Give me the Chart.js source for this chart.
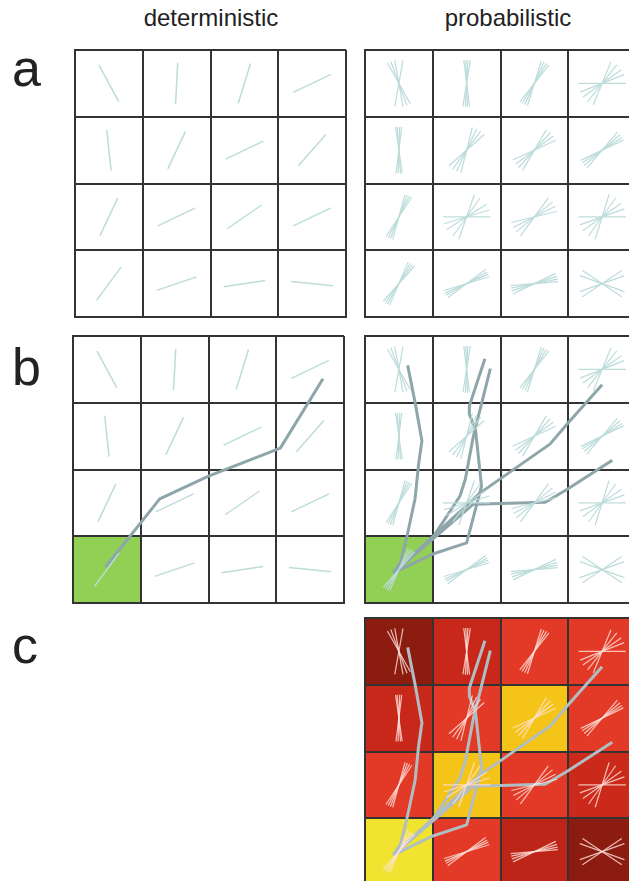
<!DOCTYPE html>
<html>
<head>
<meta charset="utf-8">
<script src="https://cdn.jsdelivr.net/npm/chart.js@4.4.0/dist/chart.umd.min.js"></script>
<style>
  html, body { margin: 0; padding: 0; background: #fff; width: 629px; height: 881px; overflow: hidden; }
  .lbl { position: absolute; font-family: "Liberation Sans", Arial, sans-serif; color: #222; white-space: nowrap; }
  .head { font-size: 24px; line-height: 30px; text-align: center; width: 220px; }
  .letter { font-size: 52px; line-height: 52px; }
  .panel { position: absolute; }
</style>
</head>
<body>

<div class="lbl head" style="left:101px; top:3px;">deterministic</div>
<div class="lbl head" style="left:398px; top:3px;">probabilistic</div>
<div class="lbl letter" style="left:12px; top:42px;">a</div>
<div class="lbl letter" style="left:12px; top:341px;">b</div>
<div class="lbl letter" style="left:12px; top:619px;">c</div>

<div class="panel" style="left:73px; top:48px;"><canvas id="aDet" width="275" height="271"></canvas></div>
<div class="panel" style="left:363px; top:48px;"><canvas id="aProb" width="275" height="271"></canvas></div>
<div class="panel" style="left:71px; top:334px;"><canvas id="bDet" width="275" height="271"></canvas></div>
<div class="panel" style="left:363px; top:334px;"><canvas id="bProb" width="275" height="271"></canvas></div>
<div class="panel" style="left:363px; top:616px;"><canvas id="cProb" width="275" height="271"></canvas></div>

<script>
// ---- data (grid is 4x4 voxels, rows listed top to bottom) ----
const gridSize = 4;

// principal fibre direction per voxel, degrees from horizontal
const detAngles = [
  [118, 87, 73, 26],
  [96, 65, 26, 49],
  [65, 26, 35, 26],
  [54, 19, 9, 174]
];

// sampled fibre directions per voxel (uncertainty fans)
const probAngles = [
  [[119, 110, 100, 80], [97, 92, 87, 81], [73, 66, 59, 52], [0, 22, 36, 52, 68]],
  [[98, 94, 88, 83], [76, 65, 54, 42], [60, 48, 37, 25], [50, 41, 33, 26]],
  [[75, 69, 63, 57], [0, 17, 33, 55, 71], [54, 40, 27, 14], [0, 20, 36, 55, 73]],
  [[67, 61, 55, 49], [37, 30, 24, 17], [26, 18, 11, 5], [146, 160, 20, 34]]
];

// seed voxel (col, row from bottom)
const seedCell = { col: 0, row: 0 };

// streamline through the deterministic field (voxel units, origin bottom-left)
const detTractX = [0.48, 1.28, 2.00, 3.06, 3.69];
const detTractY = [0.54, 1.56, 1.90, 2.32, 3.36];

// streamlines sampled from the probabilistic field
const probTractsX = [
  [0.42, 0.52, 0.62, 0.74, 0.79, 0.84, 0.74, 0.63],
  [0.42, 1.00, 1.40, 1.48, 1.60, 1.85],
  [0.42, 0.99, 1.50, 1.72, 1.63, 1.54, 1.54, 1.77],
  [0.42, 1.70, 2.73, 3.00, 3.50],
  [0.42, 1.60, 2.66, 2.98, 3.65]
];
const probTractsY = [
  [0.45, 0.60, 1.00, 1.57, 2.07, 2.43, 3.00, 3.56],
  [0.45, 0.98, 1.60, 1.85, 2.50, 3.51],
  [0.45, 0.73, 0.90, 1.75, 2.60, 2.83, 2.95, 3.66],
  [0.45, 1.65, 2.38, 2.70, 3.27],
  [0.45, 1.48, 1.51, 1.70, 2.14]
];

// connectivity (fraction of streamlines visiting each voxel), rows top to bottom
const connectivity = [
  [0.05, 0.30, 0.50, 0.50],
  [0.30, 0.50, 0.85, 0.50],
  [0.50, 0.85, 0.50, 0.32],
  [1.00, 0.50, 0.25, 0.05]
];

// ---- styling ----
const gridColor = '#333333';
const fibreColor = '#bcdcda';
const fibreOnHeat = 'rgba(255, 228, 222, 0.8)';
const tractColor = '#8ea6a9';
const tractOnHeat = '#b0bec4';
const seedColor = '#92cf55';
const heatStops = [
  [0.00, [128, 24, 14]],
  [0.30, [200, 40, 26]],
  [0.50, [226, 58, 38]],
  [0.85, [245, 196, 24]],
  [1.00, [240, 228, 48]]
];

function heatColor(v) {
  for (let i = 1; i < heatStops.length; i++) {
    const [v1, c1] = heatStops[i];
    const [v0, c0] = heatStops[i - 1];
    if (v <= v1) {
      const t = (v - v0) / (v1 - v0);
      const c = c0.map((a, k) => Math.round(a + (c1[k] - a) * t));
      return `rgb(${c[0]},${c[1]},${c[2]})`;
    }
  }
  const c = heatStops[heatStops.length - 1][1];
  return `rgb(${c[0]},${c[1]},${c[2]})`;
}

// fill voxels under the grid, using the chart's own scales
const cellFill = {
  id: 'cellFill',
  beforeDraw(chart, args, opts) {
    const { ctx, scales: { x, y } } = chart;
    ctx.save();
    (opts.cells || []).forEach(c => {
      const x0 = x.getPixelForValue(c.col), x1 = x.getPixelForValue(c.col + 1);
      const y0 = y.getPixelForValue(c.row + 1), y1 = y.getPixelForValue(c.row);
      ctx.fillStyle = c.color;
      ctx.fillRect(x0, y0, x1 - x0, y1 - y0);
    });
    ctx.restore();
  }
};

function segment(col, row, deg, len, color, width) {
  const cx = col + 0.5, cy = row + 0.5;
  const r = deg * Math.PI / 180, h = len / 2;
  return {
    data: [
      { x: cx - Math.cos(r) * h, y: cy - Math.sin(r) * h },
      { x: cx + Math.cos(r) * h, y: cy + Math.sin(r) * h }
    ],
    showLine: true, borderColor: color, borderWidth: width,
    pointRadius: 0, tension: 0
  };
}

function fibreSets(angles, fan, color, width) {
  const sets = [];
  angles.forEach((rowVals, ri) => {
    const row = gridSize - 1 - ri;
    rowVals.forEach((a, col) => {
      const list = fan ? a : [a];
      list.forEach(deg => sets.push(segment(col, row, deg, fan ? 0.7 : 0.62, color, width)));
    });
  });
  return sets;
}

function tractSet(xs, ys, color) {
  return {
    data: xs.map((x, i) => ({ x, y: ys[i] })),
    showLine: true, borderColor: color, borderWidth: 3,
    pointRadius: 0, tension: 0, borderJoinStyle: 'round'
  };
}

function makePanel(id, datasets, cells) {
  const axis = {
    type: 'linear', min: 0, max: gridSize,
    ticks: { display: false, stepSize: 1 },
    grid: { color: gridColor, lineWidth: 2, drawTicks: false },
    border: { display: true, color: gridColor, width: 2 }
  };
  new Chart(document.getElementById(id), {
    type: 'scatter',
    data: { datasets },
    options: {
      responsive: false,
      animation: false,
      layout: { padding: 2 },
      scales: { x: axis, y: { ...axis } },
      plugins: {
        legend: { display: false },
        tooltip: { enabled: false },
        cellFill: { cells: cells || [] }
      }
    },
    plugins: [cellFill]
  });
}

const seedFill = [{ col: seedCell.col, row: seedCell.row, color: seedColor }];
const heatCells = [];
connectivity.forEach((rowVals, ri) => {
  rowVals.forEach((v, col) => heatCells.push({ col, row: gridSize - 1 - ri, color: heatColor(v) }));
});

// a: fibre fields
makePanel('aDet', fibreSets(detAngles, false, fibreColor, 1.5));
makePanel('aProb', fibreSets(probAngles, true, fibreColor, 1.2));

// b: tracking from seed
makePanel('bDet', [
  ...fibreSets(detAngles, false, fibreColor, 1.5),
  tractSet(detTractX, detTractY, tractColor)
], seedFill);
makePanel('bProb', [
  ...fibreSets(probAngles, true, fibreColor, 1.2),
  ...probTractsX.map((xs, i) => tractSet(xs, probTractsY[i], tractColor))
], seedFill);

// c: connectivity map
makePanel('cProb', [
  ...fibreSets(probAngles, true, fibreOnHeat, 1.2),
  ...probTractsX.map((xs, i) => tractSet(xs, probTractsY[i], tractOnHeat))
], heatCells);
</script>
</body>
</html>
